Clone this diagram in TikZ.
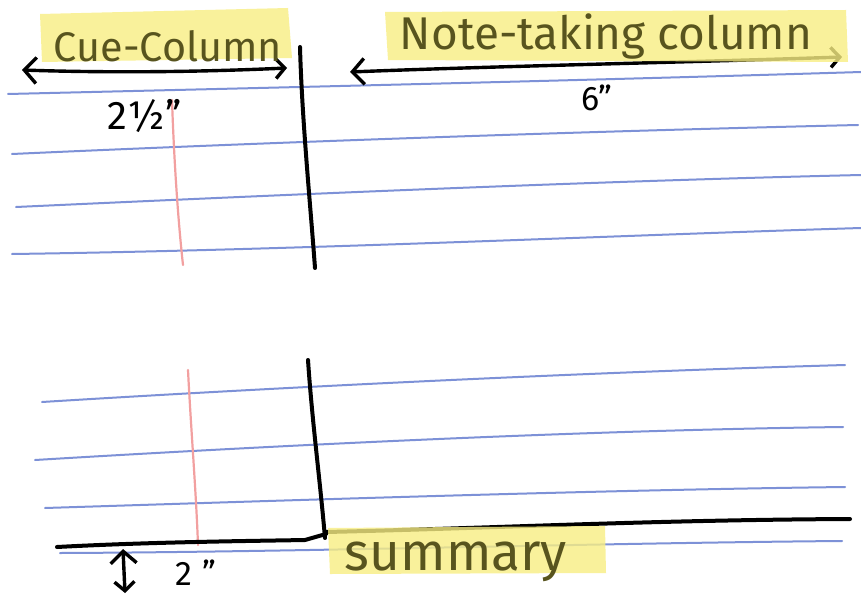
\documentclass[tikz,border=0pt]{standalone}
\usepackage{fontspec}
\setmainfont{Fira Sans}
\usetikzlibrary{arrows.meta}
\definecolor{ruleblue}{RGB}{125,145,215}
\definecolor{marginred}{RGB}{242,160,160}
\definecolor{hilite}{RGB}{248,238,130}
\definecolor{ink}{RGB}{88,84,30}
\tikzset{
  blueline/.style={draw=ruleblue, line width=2pt, line cap=round},
  redline/.style={draw=marginred, line width=2.2pt, line cap=round},
  blackline/.style={draw=black, line width=4pt, line cap=round, line join=round},
  hl/.style={fill=hilite, draw=none, fill opacity=0.8},
  title/.style={text=ink, inner sep=0pt},
  measure/.style={text=black, inner sep=0pt},
  dimarrow/.style={draw=black, line width=3.4pt, line cap=round,
    {Straight Barb[length=12pt,width=26pt,line width=3.4pt]}-{Straight Barb[length=9pt,width=20pt,line width=3.4pt]}},
}
\begin{document}
\begin{tikzpicture}[x=1pt,y=-1pt]
\useasboundingbox (0,0) rectangle (861,599);
\fill[white] (0,0) rectangle (861,599);
% ruled blue lines, top block
\draw[blueline] (8,94) .. controls (300,87) and (600,80) .. (861,72);
\draw[blueline] (12,154) .. controls (300,141) and (600,131) .. (858,125);
\draw[blueline] (16,207) .. controls (300,194) and (600,181) .. (861,175);
\draw[blueline] (12,254) .. controls (300,250) and (600,236) .. (861,228);
% ruled blue lines, bottom block
\draw[blueline] (42,402) .. controls (300,386) and (600,372) .. (845,365);
\draw[blueline] (35,460) .. controls (300,444) and (600,430) .. (843,427);
\draw[blueline] (45,508) .. controls (300,500) and (600,490) .. (845,487);
\draw[blueline] (60,553) .. controls (300,552) and (600,543) .. (842,541);
% red margin lines
\draw[redline] (172,100) .. controls (174,160) and (178,220) .. (183,265);
\draw[redline] (188,370) .. controls (191,430) and (196,490) .. (198,545);
% black column dividers
\draw[blackline] (300,47) .. controls (302,120) and (310,200) .. (315,268);
\draw[blackline] (308,360) .. controls (312,420) and (320,480) .. (325,538);
\draw[blackline] (57,547) .. controls (150,542) and (250,541) .. (305,540) -- (326,534);
\draw[blackline] (326,532) .. controls (500,528) and (650,520) .. (850,519);
% dimension arrows
\coordinate (cueL) at (22,70);
\coordinate (cueR) at (287,68);
\coordinate (noteL) at (350,72);
\coordinate (noteR) at (842,57);
\coordinate (sumUp) at (123,549);
\coordinate (sumDn) at (125,593);
\draw[dimarrow] (cueL) .. controls (110,73) and (200,72) .. (cueR);
\draw[dimarrow] (noteL) .. controls (500,66) and (700,62) .. (noteR);
\draw[dimarrow] (sumUp) -- (sumDn);
% highlights
\fill[hl] (40,14) -- (288,8) -- (292,58) -- (42,62) -- cycle;
\fill[hl] (385,12) -- (846,10) -- (848,62) -- (388,60) -- cycle;
\fill[hl] (328,528) -- (605,526) -- (606,573) -- (330,574) -- cycle;
% titles
\node[title, anchor=base] (cue) at (168,62) {\resizebox{228pt}{!}{\fontsize{40}{44}\selectfont Cue-Column}};
\node[title, anchor=base] (note) at (606,50) {\resizebox{412pt}{!}{Note-taking column}};
\node[title, anchor=base] (summ) at (456,570) {\resizebox{222pt}{!}{summary}};
% measurements
\node[measure] (w1) at (145,116) {\fontsize{40}{44}\selectfont 2½\kern1pt''};
\node[measure] (w2) at (597,98) {\fontsize{34}{38}\selectfont 6''};
\node[measure] (h1) at (196,573) {\fontsize{34}{38}\selectfont 2\kern10pt''};
\end{tikzpicture}
\end{document}
